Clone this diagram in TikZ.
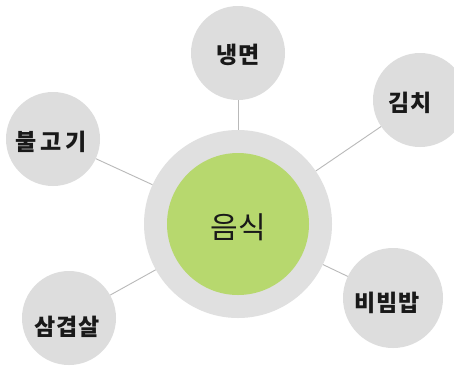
\documentclass[tikz,border=0pt]{standalone}
\usepackage{fontspec}
\newfontfamily\kfont{Noto Sans CJK KR}
\definecolor{satgray}{RGB}{221,221,221}
\definecolor{ringgray}{RGB}{224,224,224}
\definecolor{foodgreen}{RGB}{183,216,110}
\definecolor{linegray}{RGB}{185,185,185}
\definecolor{txt}{RGB}{25,25,25}
\tikzset{
  sat/.style={circle, fill=satgray, draw=none, minimum size=#1, inner sep=0pt},
  lab/.style={font=\kfont\bfseries\fontsize{23}{25}\selectfont, text=txt, inner sep=0pt},
  conn/.style={draw=linegray, line width=0.9pt}
}
\begin{document}
\begin{tikzpicture}[x=1pt,y=-1pt]
\useasboundingbox (0,0) rectangle (454,368);
\fill[white] (0,0) rectangle (454,368);
% centre
\node[sat=188pt, fill=ringgray] (ring) at (238,224) {};
\node[sat=142pt, fill=foodgreen] (core) at (238,224) {};
% satellites
\node[sat=94pt] (naeng) at (238,53) {};
\node[sat=94pt] (kimchi) at (420,100) {};
\node[sat=94pt] (bul) at (53,139) {};
\node[sat=94pt] (sam) at (69,318) {};
\node[sat=100pt] (bibim) at (393,298) {};
% connectors
\draw[conn] (ring) -- (naeng);
\draw[conn] (ring) -- (kimchi);
\draw[conn] (ring) -- (bul);
\draw[conn] (ring) -- (sam);
\draw[conn] (ring) -- (bibim);
% labels
\node[font=\kfont\fontsize{30}{32}\selectfont, text=txt, inner sep=0pt] (tcore) at (238,227) {음식};
\node[lab] (tnaeng) at (238,55) {냉면};
\node[lab] (tkimchi) at (410,103) {김치};
\node[lab] (tbul) at (51,142) {불\hspace{4pt}고\hspace{4pt}기};
\node[lab] (tsam) at (67,327) {삼\hspace{1pt}겹\hspace{1pt}살};
\node[lab] (tbibim) at (387,303) {비\hspace{1pt}빔\hspace{1pt}밥};
\end{tikzpicture}
\end{document}
